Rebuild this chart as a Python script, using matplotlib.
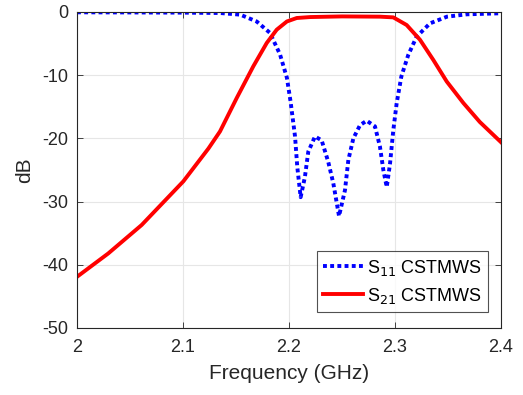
import numpy as np
import matplotlib
matplotlib.use("Agg")
import matplotlib.pyplot as plt

plt.rcParams['font.family'] = ['Liberation Sans', 'DejaVu Sans']
plt.rcParams['axes.unicode_minus'] = False

# S11 (CST MWS)
f11 = [2.0, 2.05, 2.1, 2.135, 2.154, 2.1695, 2.182, 2.1915, 2.198, 2.2015, 2.2057,
       2.2078, 2.211, 2.215, 2.2182, 2.2245, 2.2308, 2.237, 2.2418, 2.2472, 2.2528,
       2.256, 2.2607, 2.267, 2.2733, 2.2811, 2.2858, 2.289, 2.2922, 2.2953, 2.2984,
       2.3016, 2.306, 2.3125, 2.3204, 2.333, 2.349, 2.3676, 2.4]
s11 = [-0.05, -0.07, -0.1, -0.16, -0.42, -1.5, -3.3, -6.7, -10.4, -14.2, -19.7,
       -24.5, -29.3, -26.1, -22.1, -19.7, -20.3, -23.7, -27.1, -32.3, -28.2,
       -23.4, -20.0, -17.9, -17.2, -18.1, -21.3, -25.0, -27.7, -24.0, -18.7,
       -14.4, -10.2, -6.8, -3.9, -1.8, -0.74, -0.37, -0.2]

# S21 (CST MWS)
f21 = [2.0, 2.0295, 2.061, 2.1003, 2.124, 2.1349, 2.1507, 2.1663, 2.179, 2.1884,
       2.198, 2.2073, 2.22, 2.25, 2.2858, 2.2984, 2.311, 2.3236, 2.3362, 2.3488,
       2.3645, 2.380, 2.4]
s21 = [-41.9, -38.2, -33.7, -26.8, -21.6, -18.9, -13.6, -8.6, -4.9, -2.8,
       -1.5, -0.95, -0.8, -0.7, -0.74, -0.85, -2.06, -4.4, -7.6, -11.0,
       -14.4, -17.4, -20.6]

xticks = [2.0, 2.1, 2.2, 2.3, 2.4]
xticklabels = ['2', '2.1', '2.2', '2.3', '2.4']
yticks = [-50, -40, -30, -20, -10, 0]

W, H = 523, 395
fig = plt.figure(figsize=(W / 100, H / 100), dpi=100)
ax = fig.add_axes([77 / W, 1 - 328 / H, (501 - 77) / W, (328 - 12) / H])

ax.plot(f11, s11, color='#0000ff', linestyle=(0, (1, 0.85)), linewidth=2.8,
        label='S$_{11}$ CSTMWS')
ax.plot(f21, s21, color='#ff0000', linestyle='-', linewidth=2.8,
        label='S$_{21}$ CSTMWS')

ax.set_xlim(2.0, 2.4)
ax.set_ylim(-50, 0)
ax.set_xticks(xticks)
ax.set_xticklabels(xticklabels)
ax.set_yticks(yticks)
ax.grid(True, color='#e6e6e6', linewidth=0.8)
ax.set_axisbelow(True)
ax.tick_params(direction='in', top=True, right=True, labelsize=13, length=4,
               width=0.6, colors='#262626')
ax.tick_params(axis='x', pad=8)
ax.tick_params(axis='y', pad=6)
for sp in ax.spines.values():
    sp.set_linewidth(0.8)
    sp.set_color('#262626')

ax.set_xlabel('Frequency (GHz)', fontsize=15, color='#262626', labelpad=6)
ax.set_ylabel('dB', fontsize=15, color='#262626', labelpad=6)

leg = ax.legend(loc='lower right', bbox_to_anchor=((488 - 77) / 424, (328 - 312) / 316),
                borderaxespad=0, fontsize=13, frameon=True, fancybox=False,
                edgecolor='#262626', handlelength=2.2, handletextpad=0.2,
                borderpad=0.35, labelspacing=0.45)
leg.get_frame().set_linewidth(0.8)

fig.savefig('out.png', dpi=100)
